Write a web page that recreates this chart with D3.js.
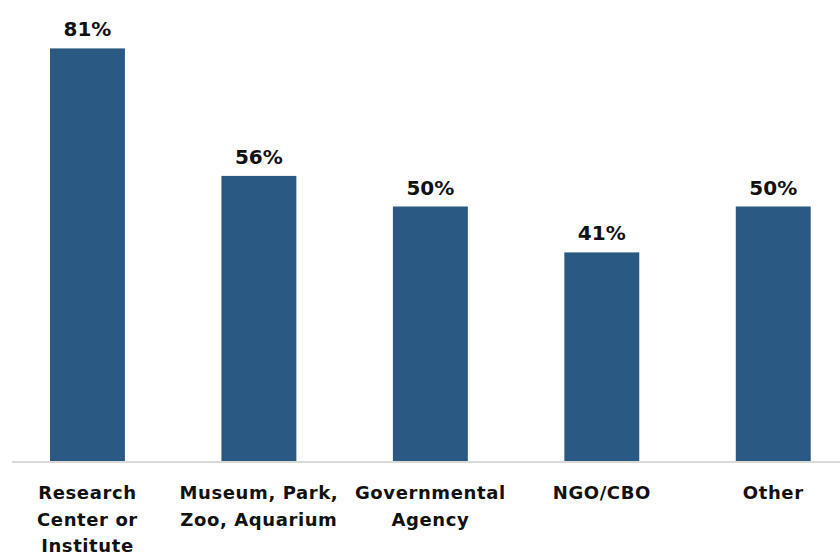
<!DOCTYPE html>
<meta charset="utf-8">
<head>
  <title>Bar chart</title>
</head>

<style>
body {
  margin: 0;
  background: #fff;
  font-family: "DejaVu Sans", sans-serif;
}
</style>

<body>
  <div id="content">
    <svg width="840" height="556"></svg>
  </div>

  <script src="https://cdnjs.cloudflare.com/ajax/libs/d3/7.8.5/d3.min.js"></script>

  <script>
var categories = [
  ['Research', 'Center or', 'Institute'],
  ['Museum, Park,', 'Zoo, Aquarium'],
  ['Governmental', 'Agency'],
  ['NGO/CBO'],
  ['Other']
];
var values = [81, 56, 50, 41, 50];
var valueLabels = ['81%', '56%', '50%', '41%', '50%'];

var svg = d3.select('svg');
var baseline = 461.5;

var x = d3.scaleBand()
  .domain(d3.range(values.length))
  .range([15.7, 845])
  .paddingInner(0.563)
  .paddingOuter(0.2);

var y = d3.scaleLinear()
  .domain([0, 90])
  .range([baseline, baseline - 90 * 5.1]);

// bars
svg.selectAll('rect.bar')
  .data(values)
  .enter().append('rect')
  .attr('class', 'bar')
  .attr('x', function(d, i) { return x(i); })
  .attr('y', function(d) { return y(d); })
  .attr('width', x.bandwidth())
  .attr('height', function(d) { return baseline - y(d); })
  .attr('fill', '#2a5a84');

// axis line
svg.append('line')
  .attr('x1', 12)
  .attr('x2', 840)
  .attr('y1', baseline + 0.5)
  .attr('y2', baseline + 0.5)
  .attr('stroke', '#d9d9d9')
  .attr('stroke-width', 2);

// value labels
svg.selectAll('text.val')
  .data(values)
  .enter().append('text')
  .attr('class', 'val')
  .attr('x', function(d, i) { return x(i) + x.bandwidth() / 2; })
  .attr('y', function(d) { return y(d) - 12; })
  .attr('text-anchor', 'middle')
  .attr('font-size', 20)
  .attr('font-weight', 700)
  .attr('fill', '#111')
  .text(function(d, i) { return valueLabels[i]; });

// category labels
var cat = svg.selectAll('text.cat')
  .data(categories)
  .enter().append('text')
  .attr('class', 'cat')
  .attr('text-anchor', 'middle')
  .attr('font-size', 18)
  .attr('font-weight', 700)
  .attr('letter-spacing', 0.6)
  .attr('fill', '#111');

cat.selectAll('tspan')
  .data(function(d, i) { return d.map(function(t) { return { t: t, i: i }; }); })
  .enter().append('tspan')
  .attr('x', function(d) { return x(d.i) + x.bandwidth() / 2; })
  .attr('y', function(d, j) { return baseline + 37.5 + j * 26.5; })
  .text(function(d) { return d.t; });
  </script>
</body>
</html>
